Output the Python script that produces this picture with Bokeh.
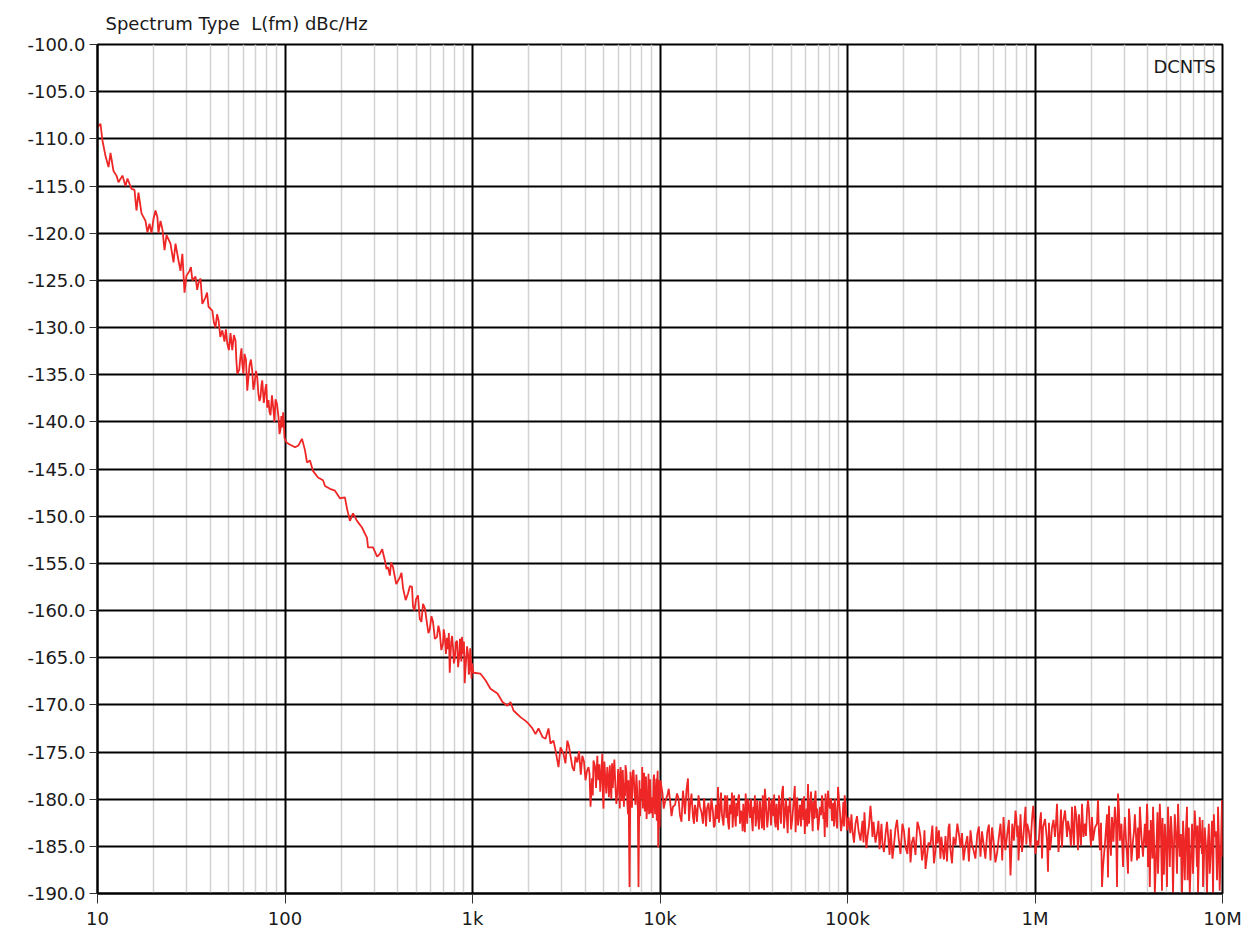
from bokeh.plotting import figure
from bokeh.models import (Range1d, FixedTicker, PrintfTickFormatter,
                          CustomJSTickFormatter, Label, ColumnDataSource)
from bokeh.embed import file_html
from bokeh.resources import INLINE

TITLE = "Spectrum Type\u00a0 L(fm) dBc/Hz"
TRACE_NAME = "DCNTS"

x_tick_values = [10, 100, 1000, 10000, 100000, 1000000, 10000000]
x_tick_labels = ["10", "100", "1k", "10k", "100k", "1M", "10M"]
y_tick_values = [-190, -185, -180, -175, -170, -165, -160, -155, -150, -145,
                 -140, -135, -130, -125, -120, -115, -110, -105, -100]

# offset frequency (Hz) and phase noise L(fm) (dBc/Hz), read decade by decade
f_d1 = [10.0, 10.37, 10.63, 11.03, 11.45, 11.73, 12.17, 12.63, 12.94, 13.59,
        14.10, 14.45, 15.18, 15.75, 16.14, 16.54, 17.17, 18.03, 18.47, 18.94,
        19.41, 19.89, 20.39, 20.87, 21.13, 21.68, 22.20, 22.77, 23.34, 24.51,
        25.43, 26.06, 27.04, 27.71, 28.36, 29.11, 29.83, 30.95, 32.06, 33.32,
        34.57, 35.43, 36.24, 37.67, 39.09, 40.96, 42.60, 44.19, 46.31, 47.57,
        49.23, 51.21, 52.34, 54.46, 55.66, 57.90, 59.17, 60.82, 62.91, 64.67,
        66.88, 68.77, 71.12, 73.12, 74.02, 75.61, 78.71, 80.39, 81.66, 83.70,
        86.85, 89.00, 92.34, 94.64, 96.61, 97.80, 99.40]
l_d1 = [-108.8, -108.4, -110.2, -111.8, -113.0, -111.5, -113.4, -113.9, -114.6, -113.9,
        -115.0, -114.2, -115.3, -115.4, -117.6, -115.7, -117.9, -118.7, -119.9, -119.0,
        -120.0, -118.5, -117.6, -118.3, -120.0, -118.7, -119.6, -121.8, -120.2, -121.1,
        -123.1, -121.1, -122.9, -124.0, -122.2, -126.3, -124.5, -124.0, -125.0, -124.6,
        -125.3, -124.8, -127.5, -126.8, -127.8, -128.2, -130.0, -129.2, -130.3, -131.5,
        -131.7, -130.6, -132.4, -131.4, -134.9, -133.0, -133.8, -132.8, -136.7, -134.0,
        -134.6, -136.0, -135.3, -137.8, -137.4, -135.6, -136.4, -138.5, -137.7, -139.3,
        -138.8, -137.6, -139.5, -140.8, -140.6, -139.0, -141.7]
f_d1b = [31.5, 34.0, 38.4, 41.8, 43.4, 45.2, 48.4, 50.2, 53.4, 55.0,
         57.0, 58.6, 60.0, 61.9, 63.8, 65.8, 67.8, 70.0, 72.1, 74.8,
         77.1, 79.5, 82.6, 85.2, 87.9, 90.6, 93.5, 95.6, 98.6]
l_d1b = [-123.6, -126.0, -126.3, -129.5, -128.6, -131.0, -130.2, -132.4, -130.8, -133.4,
         -134.5, -132.2, -134.9, -133.4, -135.4, -133.4, -136.6, -134.6, -137.0, -136.2,
         -138.0, -136.0, -138.9, -137.2, -140.0, -138.1, -141.3, -139.4, -140.2]

f_d2 = [101.9, 106.0, 113.1, 118.0, 123.2, 127.8, 131.0, 135.9, 141.0, 150.0,
        159.5, 163.4, 173.7, 184.7, 196.3, 208.7, 214.1, 222.0, 230.5, 242.1,
        257.4, 273.8, 277.1, 294.7, 320.6, 340.9, 354.3, 362.4, 376.7, 409.6,
        426.0, 452.9, 475.7, 481.6, 500.0, 523.4, 544.6, 571.9, 591.7, 615.7,
        646.7, 668.8, 696.2, 710.0, 731.2, 740.2, 756.1, 770.0, 787.1, 805.0,
        826.8, 850.0, 865.0, 879.1, 890.0, 908.7, 925.0, 946.4, 965.0, 980.0,
        994.0]
l_d2 = [-142.2, -142.4, -142.7, -142.5, -141.8, -143.0, -144.3, -144.1, -145.2, -145.9,
        -146.2, -146.8, -147.1, -147.3, -148.1, -148.0, -149.2, -150.5, -149.7, -150.5,
        -151.2, -152.3, -153.3, -153.3, -154.0, -154.7, -155.4, -156.3, -155.4, -156.5,
        -157.6, -158.2, -157.5, -159.6, -158.8, -160.9, -159.3, -161.4, -162.0, -161.2,
        -162.8, -162.3, -163.5, -162.6, -162.9, -164.1, -166.6, -163.3, -163.9, -165.0,
        -163.2, -164.8, -163.4, -162.8, -164.6, -167.7, -165.2, -164.6, -166.2, -164.9,
        -165.6]
f_d2b = [310, 330, 348, 368, 392, 418, 440, 464, 490, 512,
         534, 558, 582, 604, 630, 658, 682, 702, 722, 748,
         762, 778, 796, 815, 838, 857, 872, 900, 916, 935,
         956, 972, 988]
l_d2b = [-154.3, -153.5, -155.6, -154.9, -157.2, -156.0, -158.9, -157.4, -160.0, -158.4,
         -161.2, -159.8, -162.4, -160.6, -163.0, -161.6, -164.2, -162.0, -164.6, -162.4,
         -165.0, -162.7, -165.6, -163.4, -166.0, -163.0, -165.4, -163.3, -166.4, -163.8,
         -166.8, -164.0, -167.2]

f_d3 = [1012, 1103, 1173, 1247, 1359, 1445, 1536, 1595, 1654, 1803,
        1917, 1989, 2087, 2168, 2249, 2360, 2451, 2543, 2606, 2704,
        2771, 2875, 2947, 3057, 3206, 3332, 3409, 3543, 3624, 3853,
        4006, 4080, 4157, 4260, 4340, 4419, 4631, 4699, 4800, 4923,
        4997, 5100, 5234, 5340, 5446, 5550, 5649, 5780, 5917, 6040,
        6157, 6270, 6388, 6470, 6547, 6700, 6792, 6877, 7047, 7130,
        7223, 7400, 7561, 7680, 7871, 7950, 8039, 8166, 8300, 8420,
        8547, 8685, 8800, 8950, 9087, 9234, 9350, 9464, 9560, 9661,
        9780]
l_d3 = [-166.6, -166.7, -167.4, -168.3, -168.8, -169.7, -170.1, -169.7, -170.6, -171.3,
        -171.7, -172.0, -172.5, -173.1, -172.5, -173.4, -173.6, -172.5, -174.1, -173.8,
        -174.8, -176.6, -174.5, -175.2, -173.8, -175.4, -176.6, -175.5, -176.1, -175.4,
        -178.0, -177.0, -176.6, -180.8, -177.8, -175.9, -175.4, -178.0, -179.2, -175.2,
        -181.0, -177.5, -176.6, -179.8, -178.4, -176.2, -177.3, -178.6, -179.4, -177.9,
        -176.6, -180.2, -179.1, -178.3, -176.4, -180.5, -178.0, -189.3, -179.4, -178.0,
        -176.9, -180.6, -179.1, -189.3, -180.2, -178.9, -176.6, -178.4, -181.3, -177.6,
        -180.8, -177.3, -179.0, -181.5, -179.8, -178.0, -179.2, -180.8, -177.8, -178.4,
        -185.1]
f_d3b = [3130, 3270, 3480, 3700, 3780, 3930, 4210, 4380, 4500, 4560,
         4660, 4750, 4860, 4960, 5050, 5170, 5290, 5400, 5500, 5600,
         5710, 5850, 5980, 6100, 6210, 6330, 6420, 6510, 6620, 6750,
         6960, 7090, 7180, 7310, 7480, 7620, 7770, 7830, 8000, 8100,
         8230, 8360, 8480, 8620, 8740, 8860, 9020, 9160, 9290, 9410,
         9510, 9610, 9720, 9830, 9900, 9950]
l_d3b = [-176.2, -174.4, -177.0, -174.9, -177.4, -176.0, -177.3, -179.6, -176.5, -178.8,
         -177.0, -176.3, -177.4, -179.6, -176.0, -179.4, -178.0, -176.4, -180.0, -178.8,
         -175.8, -180.5, -176.8, -181.0, -177.6, -176.9, -180.8, -179.7, -177.2, -181.6,
         -177.1, -180.9, -177.0, -179.2, -177.4, -181.2, -178.0, -181.8, -179.8, -181.0,
         -177.2, -179.6, -182.1, -179.5, -181.6, -177.9, -180.6, -182.0, -177.4, -181.6,
         -179.9, -182.3, -177.0, -181.3, -178.0, -183.0]

f_d4 = [10060, 10310, 10630, 10950, 11310, 11730, 12320, 12780, 13260, 13590,
        14100, 14450, 15000, 15350, 15750, 16340, 16960, 17400, 17810, 18470,
        19170, 19600, 20140, 20390, 20900, 21410, 22200, 22600, 23050, 23600,
        24210, 24600, 25090, 25600, 26060, 26700, 27380, 27800, 28360, 28900,
        29470, 30200, 30950, 31500, 32060, 32700, 33320, 34100, 35000, 35600,
        36240, 37000, 37670, 38600, 39570, 40300, 40960, 41800, 42600, 43600,
        44740, 45290, 46400, 47570, 48400, 49230, 50800, 52340, 53400, 54460,
        55800, 57190, 58200, 59170, 60400, 61570, 63100, 64670, 65800, 66880,
        68200, 69620, 71400, 73120, 74300, 75610, 77100, 78710, 80600, 82680,
        84000, 85470, 87200, 89000, 91200, 93490, 95000, 96610, 99400]
l_d4 = [-178.0, -179.4, -180.3, -179.6, -180.1, -180.8, -179.4, -181.7, -179.1, -181.6,
        -177.8, -180.8, -181.9, -180.6, -182.4, -180.8, -182.6, -181.2, -181.0, -182.4,
        -181.4, -182.8, -182.1, -178.7, -181.0, -181.7, -179.6, -182.0, -182.4, -180.6,
        -179.3, -181.5, -181.7, -180.4, -180.0, -182.6, -182.1, -180.5, -183.5, -181.0,
        -180.0, -182.0, -182.4, -180.8, -179.6, -181.8, -181.9, -180.2, -183.1, -181.2,
        -178.9, -181.6, -182.1, -180.6, -180.0, -181.8, -182.3, -180.5, -183.3, -180.9,
        -179.3, -178.6, -181.5, -182.3, -180.7, -179.8, -182.0, -178.6, -181.2, -182.8,
        -180.6, -180.0, -182.2, -183.7, -181.0, -178.4, -180.9, -181.9, -180.2, -180.1,
        -182.0, -183.3, -180.8, -179.6, -182.1, -184.0, -181.3, -179.1, -181.0, -182.3,
        -180.4, -180.0, -182.4, -178.7, -181.4, -182.6, -180.3, -179.6, -183.3]
f_d4b = [10470, 11130, 11520, 12030, 12550, 13020, 13420, 13850, 14280, 14720,
         15180, 15550, 16050, 16650, 17180, 17600, 18140, 18800, 19380, 19870,
         20640, 21150, 21800, 22400, 22830, 23320, 23900, 24400, 24850, 25350,
         25830, 26380, 27040, 27590, 28080, 28630, 29180, 29830, 30570, 31220,
         31780, 32380, 33010, 33710, 34550, 35300, 35920, 36620, 37330, 38130,
         39080, 39930, 40630, 41380, 42200, 43100, 44170, 45840, 46980, 47980,
         48810, 50000, 51570, 52870, 53930, 55130, 56490, 57690, 58690, 59780,
         60980, 62330, 63880, 65230, 66330, 67540, 68900, 70500, 72250, 73700,
         74950, 76350, 77900, 79650, 81640, 83340, 84730, 86330, 88100, 90100,
         92340, 94240, 95800, 98000]
l_d4b = [-181.0, -178.9, -181.8, -180.6, -179.9, -182.4, -180.2, -179.0, -182.3, -179.4,
         -182.6, -181.1, -179.6, -181.4, -179.9, -182.9, -180.4, -179.9, -183.0, -180.6,
         -182.5, -179.3, -182.8, -180.3, -179.6, -183.2, -181.6, -183.0, -179.6, -182.9,
         -181.8, -179.5, -181.2, -183.4, -181.8, -179.4, -182.6, -180.7, -180.0, -183.4,
         -181.5, -182.9, -180.1, -183.2, -181.6, -179.6, -183.3, -180.0, -183.0, -179.8,
         -182.8, -181.2, -179.5, -183.0, -182.0, -179.6, -182.6, -183.1, -180.0, -183.6,
         -181.4, -183.2, -180.3, -183.5, -179.8, -181.7, -182.9, -180.9, -179.7, -181.9,
         -182.9, -182.6, -179.2, -183.4, -182.1, -179.1, -181.0, -182.2, -181.7, -180.2,
         -181.4, -179.4, -183.0, -180.4, -179.9, -180.9, -182.9, -181.0, -183.1, -180.1,
         -183.4, -181.6, -182.9, -181.0]

f_d5 = [101200, 103500, 106300, 110300, 114500, 120200, 121700, 124500, 127800, 132600,
        135900, 137600, 144500, 146300, 150000, 153600, 159500, 165400, 170000, 173700,
        180300, 187100, 196300, 203900, 208700, 216800, 220500, 224900, 236000, 245100,
        254300, 260600, 270400, 283600, 294700, 301500, 313300, 320600, 333200, 345700,
        354300, 367600, 385300, 400600, 415700, 435600, 452900, 469900, 492300, 512100,
        531300, 556600, 579000, 600800, 629100, 654700, 668800, 679200, 711200, 740200,
        756100, 787100, 803900, 816600, 837000, 868500, 890000, 908700, 946400, 966100,
        978000, 1006000]
l_d5 = [-181.9, -183.6, -183.3, -182.6, -183.3, -182.3, -184.6, -183.2, -184.0, -180.7,
        -184.0, -182.4, -183.3, -182.3, -184.0, -184.7, -183.7, -184.4, -183.2, -186.3,
        -183.1, -184.0, -182.6, -185.1, -185.8, -186.7, -184.6, -184.0, -182.4, -184.0,
        -185.4, -187.4, -184.6, -182.8, -185.4, -184.7, -186.3, -185.1, -183.9, -183.0,
        -185.4, -184.0, -182.6, -185.1, -186.5, -183.9, -183.3, -185.4, -183.7, -186.1,
        -184.7, -183.5, -186.5, -184.4, -185.6, -182.6, -186.5, -181.9, -183.7, -188.1,
        -182.6, -181.2, -184.0, -186.5, -181.6, -183.7, -180.8, -182.6, -185.1, -181.9,
        -180.7, -185.8]
f_d5b = [104900, 108300, 112400, 117300, 123100, 126100, 130200, 134200, 141000, 148200,
         151800, 156500, 162400, 167700, 176900, 183700, 191700, 200100, 212700, 218600,
         230400, 240500, 249700, 257400, 265500, 277000, 289100, 298100, 307300, 316900,
         326900, 339400, 349900, 360900, 376400, 392900, 408100, 425600, 444200, 461300,
         480900, 502100, 521600, 543800, 567700, 589800, 614900, 641900, 661700, 695200,
         725600, 748100, 771600, 795400, 810200, 826700, 852700, 879200, 899300, 927400,
         956200, 992000]
l_d5b = [-181.6, -184.6, -181.8, -184.4, -181.4, -185.2, -182.8, -182.0, -184.6, -185.3,
         -182.6, -185.6, -182.4, -185.9, -184.9, -182.2, -185.8, -183.4, -183.0, -185.8,
         -185.9, -183.0, -186.5, -183.3, -186.0, -184.9, -186.8, -182.9, -183.3, -184.0,
         -186.4, -186.6, -182.6, -186.8, -184.9, -183.7, -183.6, -184.9, -186.6, -184.8,
         -186.3, -182.9, -183.4, -186.3, -182.7, -183.0, -186.7, -184.0, -184.2, -185.4,
         -182.2, -185.6, -184.4, -182.0, -182.8, -184.4, -185.6, -182.2, -184.8, -183.4,
         -183.3, -182.4]

f_d6 = [1025000, 1063000, 1090000, 1103000, 1159000, 1173000, 1202000, 1232000, 1278000, 1310000,
        1359000, 1393000, 1410000, 1482000, 1500000, 1575000, 1595000, 1634000, 1696000, 1737000,
        1781000, 1847000, 1894000, 1917000, 1963000, 2014000, 2039000, 2141000, 2168000, 2220000,
        2277000, 2305000, 2421000, 2451000, 2509000, 2574000, 2667000, 2738000, 2771000, 2836000,
        2947000, 3015000, 3095000, 3133000, 3206000, 3332000, 3409000, 3500000, 3543000, 3624000,
        3767000, 3853000, 3957000, 4006000, 4096000, 4197000, 4260000, 4356000, 4474000, 4529000,
        4631000, 4757000, 4816000, 4923000, 5059000, 5121000, 5234000, 5379000, 5446000, 5566000,
        5719000, 5790000, 5917000, 6082000, 6157000, 6291000, 6467000, 6547000, 6688000, 6877000,
        6962000, 7112000, 7312000, 7402000, 7561000, 7775000, 7871000, 8039000, 8268000, 8370000,
        8547000, 8791000, 8900000, 9087000, 9349000, 9464000, 9661000, 9940000, 10000000]
l_d6 = [-184.4, -182.3, -186.3, -183.0, -184.4, -187.7, -185.4, -183.0, -184.0, -180.5,
        -183.3, -185.1, -182.6, -184.0, -182.3, -180.8, -183.3, -180.7, -185.4, -183.3,
        -180.5, -182.6, -181.2, -180.1, -183.3, -181.9, -184.4, -182.6, -180.1, -185.4,
        -189.3, -187.2, -181.6, -188.3, -183.7, -181.9, -180.8, -189.3, -179.4, -184.4,
        -187.2, -181.9, -185.8, -187.9, -182.3, -184.4, -181.6, -186.5, -183.0, -180.8,
        -186.1, -182.6, -180.5, -187.2, -189.3, -184.4, -180.8, -190.0, -183.0, -187.9,
        -180.5, -189.7, -185.1, -182.6, -189.3, -180.8, -187.2, -184.0, -190.0, -181.6,
        -187.9, -180.5, -186.1, -190.0, -182.3, -188.6, -180.8, -185.4, -190.0, -182.6,
        -187.9, -181.2, -187.2, -190.0, -181.9, -185.8, -189.3, -183.0, -190.0, -184.4,
        -187.9, -182.3, -190.0, -184.0, -188.6, -180.8, -189.7, -180.1, -186.1]
f_d6b = [1044000, 1076000, 1131000, 1187000, 1217000, 1255000, 1293000, 1334000, 1376000, 1446000,
         1537000, 1555000, 1614000, 1665000, 1716000, 1759000, 1813000, 1870000, 1940000, 1988000,
         2089000, 2195000, 2249000, 2363000, 2480000, 2541000, 2620000, 2703000, 2803000, 2891000,
         2981000, 3055000, 3170000, 3269000, 3370000, 3454000, 3584000, 3695000, 3810000, 3905000,
         3981000, 4050000, 4146000, 4228000, 4308000, 4415000, 4501000, 4580000, 4694000, 4786000,
         4870000, 4991000, 5090000, 5177000, 5306000, 5412000, 5505000, 5642000, 5754000, 5853000,
         6000000, 6120000, 6224000, 6378000, 6507000, 6617000, 6782000, 6919000, 7037000, 7211000,
         7356000, 7481000, 7667000, 7822000, 7954000, 8153000, 8318000, 8458000, 8668000, 8845000,
         8993000, 9217000, 9406000, 9562000, 9800000, 9970000]
l_d6b = [-184.9, -181.4, -182.1, -182.5, -184.5, -182.2, -182.6, -185.6, -181.1, -181.2,
         -183.6, -185.0, -184.9, -182.0, -181.6, -184.9, -184.0, -183.9, -181.2, -185.0,
         -183.0, -183.7, -182.5, -184.6, -180.7, -186.0, -184.5, -182.4, -181.1, -182.6,
         -183.8, -184.2, -181.0, -186.6, -183.5, -183.7, -186.3, -183.9, -184.3, -185.0,
         -181.8, -183.3, -182.2, -186.3, -183.8, -186.7, -181.4, -184.7, -183.6, -182.0,
         -188.0, -184.6, -184.0, -183.6, -181.8, -186.6, -185.3, -183.7, -185.1, -183.2,
         -183.7, -187.4, -184.3, -183.6, -188.6, -183.0, -186.6, -184.0, -184.8, -183.6,
         -182.8, -186.1, -184.3, -182.2, -186.6, -184.8, -187.2, -182.6, -185.3, -185.7,
         -181.6, -183.4, -186.3, -184.1, -185.4, -183.0]

pairs = []
for fs, ls in [(f_d1, l_d1), (f_d1b, l_d1b), (f_d2, l_d2), (f_d2b, l_d2b),
               (f_d3, l_d3), (f_d3b, l_d3b), (f_d4, l_d4), (f_d4b, l_d4b),
               (f_d5, l_d5), (f_d5b, l_d5b), (f_d6, l_d6), (f_d6b, l_d6b)]:
    pairs.extend(zip(fs, ls, strict=True))
pairs.sort(key=lambda t: t[0])
freqs = [t[0] for t in pairs]
levels = [t[1] for t in pairs]

FONT = "DejaVu Sans"
TXT = "#1a1a1a"

p = figure(width=1244, height=933, x_axis_type="log",
           x_range=Range1d(10, 1e7), y_range=Range1d(-190, -100),
           output_backend="svg", toolbar_location=None,
           min_border_left=97, min_border_right=22, min_border_top=44,
           min_border_bottom=40, title=TITLE)

p.title.text_font = FONT
p.title.text_font_size = "18px"
p.title.text_font_style = "normal"
p.title.text_color = TXT
p.title.align = "left"
p.title.offset = 8
p.title.standoff = 21

minor = [m * d for d in x_tick_values[:-1] for m in range(2, 10)]
xt = FixedTicker(ticks=x_tick_values, minor_ticks=minor)
p.xaxis.ticker = xt
p.xgrid.ticker = xt
p.xaxis.formatter = CustomJSTickFormatter(
    args=dict(vals=x_tick_values, labels=x_tick_labels),
    code="""
for (let i = 0; i < vals.length; i++) {
  if (Math.abs(Math.log10(tick) - Math.log10(vals[i])) < 1e-6) return labels[i];
}
return '';
""")
yt = FixedTicker(ticks=y_tick_values)
p.yaxis.ticker = yt
p.ygrid.ticker = yt
p.yaxis.formatter = PrintfTickFormatter(format="%.1f")

for ax in (p.xaxis, p.yaxis):
    ax.major_label_text_font = FONT
    ax.major_label_text_font_size = "18px"
    ax.major_label_text_color = TXT
    ax.minor_tick_line_color = None
    ax.major_tick_in = 0
    ax.major_tick_line_color = "#333333"
    ax.major_tick_line_width = 1
    ax.axis_line_color = "black"
    ax.axis_line_width = 2
p.xaxis.major_tick_out = 10
p.xaxis.major_label_standoff = 4
p.yaxis.major_tick_out = 8
p.yaxis.major_label_standoff = 4

p.xgrid.grid_line_color = "black"
p.xgrid.grid_line_width = 2
p.xgrid.minor_grid_line_color = "#d2d2d2"
p.xgrid.minor_grid_line_width = 1.5
p.ygrid.grid_line_color = "black"
p.ygrid.grid_line_width = 2

p.outline_line_color = "black"
p.outline_line_width = 2
p.background_fill_color = "white"
p.border_fill_color = "white"

src = ColumnDataSource(data=dict(f=freqs, level=levels))
p.line("f", "level", source=src, line_color="#ee2626", line_width=1.8)

p.add_layout(Label(x=9.2e6, y=-102.3, text=TRACE_NAME, text_align="right",
                   text_baseline="middle", text_font=FONT, text_font_size="18px",
                   text_color=TXT))

open("out.html", "w").write(file_html(p, INLINE))
